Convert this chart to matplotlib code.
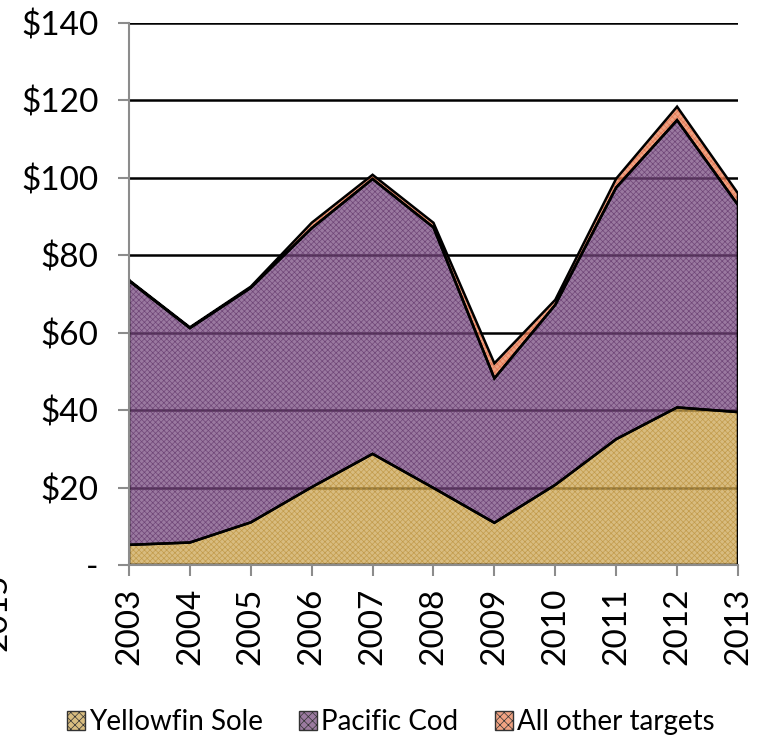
import matplotlib
matplotlib.use("Agg")
import matplotlib.pyplot as plt
import numpy as np
from matplotlib.patches import Patch

years = [2003, 2004, 2005, 2006, 2007, 2008, 2009, 2010, 2011, 2012, 2013]
yellowfin_sole = [5.2, 5.8, 11.0, 20.1, 28.7, 19.9, 10.9, 20.7, 32.5, 40.7, 39.5]
pacific_cod = [68.2, 55.4, 60.6, 66.9, 71.0, 67.3, 37.3, 46.5, 65.0, 74.2, 53.5]
all_other = [0.2, 0.2, 0.3, 1.4, 1.1, 1.2, 3.9, 1.3, 2.3, 3.5, 3.0]
series_names = ["Yellowfin Sole", "Pacific Cod", "All other targets"]
ytick_vals = [0, 20, 40, 60, 80, 100, 120, 140]
ytick_labels = ["-", "$20", "$40", "$60", "$80", "$100", "$120", "$140"]

face_colors = ["#d8bd80", "#9b7aa0", "#f0a282"]
hatch_colors = ["#cdae70", "#8c6c92", "#e8927a"]

plt.rcParams['font.family'] = ['Lato', 'DejaVu Sans']
plt.rcParams['hatch.linewidth'] = 0.5

fig = plt.figure(figsize=(7.66, 7.43), dpi=100)
ax = fig.add_axes([0.1684, 0.2396, 0.795, 0.7294])

x = np.array(years)
data = [np.array(yellowfin_sole), np.array(pacific_cod), np.array(all_other)]
base = np.zeros(len(x))
alpha = 0.72
for vals, fc, hc in zip(data, face_colors, hatch_colors):
    top = base + vals
    rgb = np.array(matplotlib.colors.to_rgb(fc))
    adj = np.clip((rgb - (1 - alpha)) / alpha, 0, 1)
    hrgb = np.array(matplotlib.colors.to_rgb(hc))
    hadj = np.clip((hrgb - (1 - alpha)) / alpha, 0, 1)
    ax.fill_between(x, base, top, facecolor=adj, edgecolor=hadj, hatch='xxxxxx',
                    linewidth=0, alpha=alpha, zorder=2)
    poly_x = np.concatenate([x, x[::-1], [x[0]]])
    poly_y = np.concatenate([top, base[::-1], [top[0]]])
    ax.plot(poly_x, poly_y, color='black', linewidth=1.8, zorder=3,
            solid_joinstyle='miter')
    base = top

ax.set_xlim(2003, 2013)
ax.set_ylim(0, 140)
ax.set_yticks(ytick_vals)
ax.set_yticklabels(ytick_labels)
ax.set_xticks(years)
ax.set_xticklabels([str(y) for y in years], rotation=90)

for v in ytick_vals[1:]:
    ax.axhline(v, color='black', linewidth=1.8, zorder=1)

for s in ['top', 'right']:
    ax.spines[s].set_visible(False)
for s in ['left', 'bottom']:
    ax.spines[s].set_color('#8c8c8c')
    ax.spines[s].set_linewidth(1.5)
    ax.spines[s].set_zorder(4)

ax.tick_params(axis='both', direction='out', length=8, width=1.5, color='#8c8c8c',
               labelsize=24)
ax.tick_params(axis='y', pad=14)
ax.tick_params(axis='x', pad=8)

handles = [Patch(facecolor=fc, edgecolor='#333333', hatch='xxxx', linewidth=1.0)
           for fc in face_colors]
fig.legend(handles, series_names, loc='center', bbox_to_anchor=(0.51, 0.028),
           ncol=3, frameon=False, fontsize=20, handlelength=0.65, handleheight=0.65,
           handletextpad=0.15, columnspacing=1.3)

fig.text(-0.003, 0.176, "2015", rotation=90, fontsize=24, ha='center', va='center')

fig.savefig("out.png", dpi=100)
